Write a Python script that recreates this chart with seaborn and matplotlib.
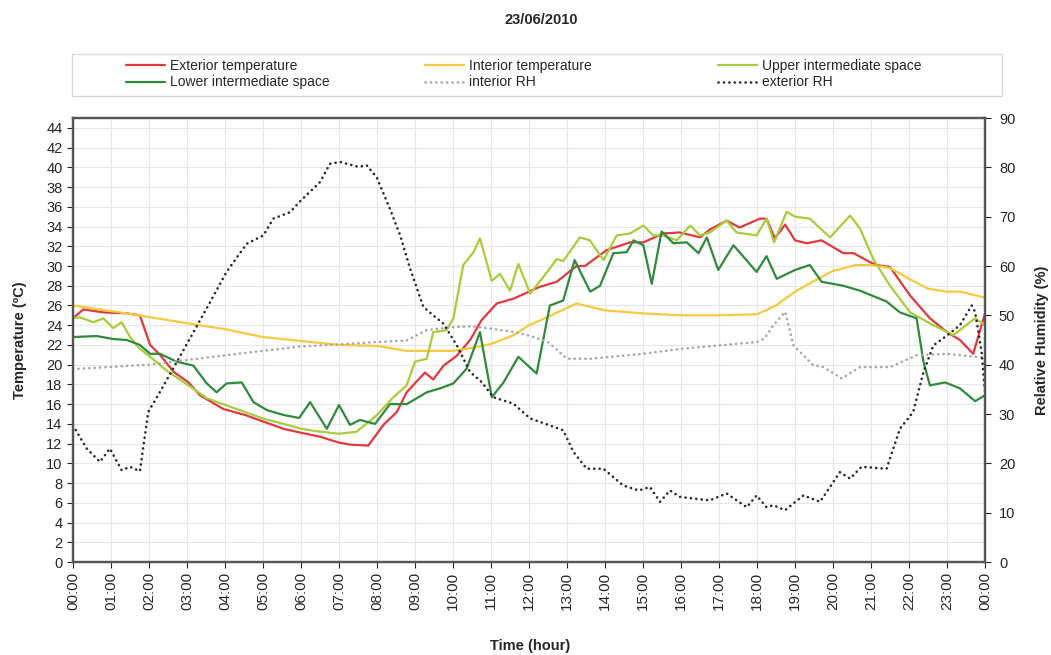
import pandas as pd
import matplotlib.pyplot as plt
import seaborn as sns
from matplotlib.patches import Rectangle

# ---------------------------------------------
#  Temperature / RH record for 23/06/2010
# ---------------------------------------------

hour_ticks = list(range(25))
hour_labels = [f"{h % 24:02d}:00" for h in hour_ticks]

# Exterior temperature (ºC)
ext_temp_h = [0, 0.27, 0.8, 1.41, 1.76, 2.03, 2.29, 2.64, 3.04, 3.34, 3.96, 4.53, 5.03, 5.54, 6.0,
              6.5, 7.0, 7.29, 7.77, 8.17, 8.52, 8.78, 9.26, 9.48, 9.75, 10.1, 10.45, 10.75, 11.15,
              11.6, 12.0, 12.29, 12.73, 13.25, 13.47, 14.04, 14.66, 15.01, 15.54, 15.97, 16.5,
              16.76, 17.2, 17.54, 18.08, 18.25, 18.47, 18.74, 19.0, 19.31, 19.7, 20.27, 20.54,
              20.97, 21.14, 21.5, 22.03, 22.55, 23.0, 23.34, 23.69, 24.0]
ext_temp = [24.7, 25.6, 25.3, 25.2, 25.0, 22.0, 21.0, 19.3, 18.2, 16.9, 15.5, 14.9, 14.2, 13.5, 13.1,
            12.7, 12.1, 11.9, 11.8, 13.9, 15.2, 17.2, 19.2, 18.5, 19.9, 20.9, 22.5, 24.5, 26.2,
            26.7, 27.4, 27.9, 28.4, 30.0, 30.0, 31.6, 32.4, 32.4, 33.3, 33.4, 32.9,
            33.7, 34.6, 33.9, 34.8, 34.8, 32.8, 34.2, 32.6, 32.3, 32.6, 31.3, 31.3,
            30.4, 30.1, 29.9, 27.0, 24.7, 23.3, 22.5, 21.1, 25.2]

# Interior temperature (ºC)
int_temp_h = [0, 1.4, 3.0, 4.0, 5.0, 6.0, 7.0, 8.0, 8.78, 10.0, 10.5, 11.0, 11.6, 12.0, 12.3, 13.25,
              14.0, 15.0, 16.0, 17.0, 18.0, 18.5, 19.0, 19.6, 20.0, 20.6, 21.0, 21.5, 22.0, 22.5,
              23.0, 23.35, 24.0]
int_temp = [26.0, 25.2, 24.2, 23.6, 22.8, 22.4, 22.0, 21.9, 21.4, 21.4, 21.7, 22.1, 23.0, 24.0, 24.5, 26.2,
            25.5, 25.2, 25.0, 25.0, 25.1, 26.0, 27.4, 28.7, 29.5, 30.1, 30.1, 29.8, 28.7, 27.7,
            27.4, 27.4, 26.8]

# Upper intermediate space (ºC)
upper_h = [0, 0.18, 0.54, 0.8, 1.06, 1.28, 1.5, 1.76, 2.03, 2.46, 3.04, 3.52, 4.02, 4.53, 5.03,
           5.54, 6.02, 6.32, 7.0, 7.46, 8.0, 8.43, 8.78, 9.0, 9.31, 9.48, 9.83, 10.01, 10.27, 10.54,
           10.71, 11.02, 11.24, 11.5, 11.72, 12.03, 12.38, 12.73, 12.9, 13.34, 13.6, 13.96, 14.31,
           14.66, 15.01, 15.27, 15.54, 15.89, 16.24, 16.5, 16.76, 17.2, 17.46, 17.99, 18.25, 18.45,
           18.78, 19.0, 19.39, 19.92, 20.45, 20.71, 21.06, 21.5, 22.03, 22.64, 23.17, 23.74, 24.0]
upper = [24.7, 24.8, 24.3, 24.7, 23.7, 24.3, 22.8, 21.6, 20.8, 19.4, 17.9, 16.6, 15.9, 15.2, 14.5,
         14.0, 13.5, 13.3, 13.0, 13.2, 14.9, 16.7, 17.9, 20.3, 20.6, 23.3, 23.5, 24.7, 30.1, 31.4,
         32.8, 28.5, 29.2, 27.5, 30.2, 27.2, 28.9, 30.7, 30.5, 32.9, 32.6, 30.6, 33.1,
         33.3, 34.1, 33.1, 33.1, 32.6, 34.1, 33.1, 33.4, 34.6, 33.4, 33.1, 34.8, 32.4,
         35.5, 35.0, 34.8, 32.9, 35.1, 33.8, 30.7, 28.0, 25.3, 24.0, 23.0, 24.7, 24.0]

# Lower intermediate space (ºC)
lower_h = [0, 0.62, 1.06, 1.41, 1.76, 2.03, 2.29, 2.73, 3.17, 3.52, 3.78, 4.04, 4.44, 4.75, 5.1,
           5.54, 5.95, 6.24, 6.68, 7.0, 7.29, 7.55, 7.95, 8.34, 8.78, 9.31, 9.66, 10.01, 10.36,
           10.71, 11.02, 11.33, 11.72, 12.2, 12.55, 12.9, 13.2, 13.61, 13.87, 14.22, 14.57, 14.75,
           15.01, 15.23, 15.49, 15.8, 16.15, 16.46, 16.68, 16.98, 17.38, 17.99, 18.25, 18.52, 19.0,
           19.39, 19.7, 20.27, 20.71, 21.41, 21.76, 22.2, 22.38, 22.55, 22.95, 23.34, 23.74, 24.0]
lower = [22.8, 22.9, 22.6, 22.5, 22.0, 21.1, 21.1, 20.3, 19.9, 18.1, 17.2, 18.1, 18.2, 16.2, 15.4,
         14.9, 14.6, 16.2, 13.5, 15.9, 13.9, 14.4, 14.0, 16.0, 16.0, 17.2, 17.6, 18.1, 19.6,
         23.3, 16.7, 18.2, 20.8, 19.1, 26.0, 26.5, 30.6, 27.4, 28.0, 31.3, 31.4, 32.6,
         32.1, 28.2, 33.5, 32.3, 32.4, 31.3, 32.9, 29.6, 32.1, 29.4, 31.0, 28.7, 29.6,
         30.1, 28.4, 28.0, 27.5, 26.4, 25.3, 24.7, 20.3, 17.9, 18.2, 17.6, 16.3, 16.9]

# Interior RH (%)
int_rh_h = [0, 2.0, 4.0, 6.0, 7.0, 8.0, 8.78, 9.3, 10.0, 10.5, 11.0, 11.6, 12.0, 12.5, 13.0, 13.6,
            15.0, 16.0, 17.0, 18.0, 18.2, 18.43, 18.74, 18.96, 19.48, 19.75, 20.23, 20.71, 21.5,
            22.2, 23.0, 24.0]
int_rh = [39.1, 40.0, 41.9, 43.7, 44.1, 44.6, 44.9, 47.0, 47.6, 47.8, 47.3, 46.6, 45.9, 44.6, 41.2, 41.2,
          42.2, 43.2, 43.9, 44.6, 45.3, 48.0, 50.7, 43.9, 39.9, 39.5, 37.2, 39.5, 39.5,
          41.9, 42.2, 41.4]

# Exterior RH (%)
ext_rh_h = [0, 0.36, 0.71, 0.97, 1.28, 1.5, 1.76, 1.98, 2.29, 2.73, 3.17, 3.61, 4.04, 4.57, 5.01,
            5.27, 5.71, 6.0, 6.5, 6.76, 7.03, 7.51, 7.73, 7.99, 8.34, 8.61, 8.87, 9.22, 9.48, 9.75,
            10.1, 10.45, 10.75, 11.06, 11.59, 12.03, 12.29, 12.9, 13.17, 13.52, 13.96, 14.48, 14.89,
            15.18, 15.45, 15.71, 15.97, 16.4, 16.76, 17.2, 17.73, 17.99, 18.25, 18.43, 18.74, 19.22,
            19.66, 20.18, 20.45, 20.75, 21.41, 21.76, 22.11, 22.38, 22.64, 23.0, 23.34, 23.65, 23.74,
            23.91, 24.0]
ext_rh = [27.7, 23.0, 20.3, 23.0, 18.6, 19.3, 18.4, 30.4, 34.5, 40.5, 46.6, 52.7, 58.8, 64.5, 66.2,
          69.6, 70.9, 73.3, 77.0, 80.7, 81.1, 80.1, 80.4, 78.0, 71.6, 66.2, 59.5, 51.7, 50.0, 48.3,
          43.9, 38.5, 36.5, 33.4, 32.1, 29.1, 28.4, 26.7, 22.3, 18.9, 18.9, 15.5, 14.5,
          15.2, 12.2, 14.5, 13.2, 12.8, 12.5, 13.9, 11.1, 13.5, 11.1, 11.5, 10.5, 13.5,
          12.2, 18.2, 16.9, 19.3, 18.9, 27.0, 30.4, 38.5, 43.9, 45.9, 48.0, 52.0, 50.7,
          42.6, 34.5]

# ------------------------------
# Figure setup
# ------------------------------
sns.set_style("white")
plt.rcParams["font.family"] = ["Liberation Sans", "DejaVu Sans"]

fig = plt.figure(figsize=(10.51, 6.55), dpi=100)
ax = fig.add_axes([73 / 1051, 1 - 562 / 655, (985 - 73) / 1051, (562 - 118) / 655])
ax2 = ax.twinx()

solid = dict(lw=1.6)
dotted = dict(lw=1.9, linestyle=(0, (0.05, 2.0)), dash_capstyle="round")

sns.lineplot(x=ext_temp_h, y=ext_temp, ax=ax, color="#e0393e", label="Exterior temperature", **solid)
sns.lineplot(x=int_temp_h, y=int_temp, ax=ax, color="#f7c940", label="Interior temperature", **solid)
sns.lineplot(x=upper_h, y=upper, ax=ax, color="#a8cc3c", label="Upper intermediate space", **solid)
sns.lineplot(x=lower_h, y=lower, ax=ax, color="#2f8a3c", label="Lower intermediate space", **solid)
sns.lineplot(x=int_rh_h, y=int_rh, ax=ax2, color="#a6a6a6", label="interior RH", **dotted)
sns.lineplot(x=ext_rh_h, y=ext_rh, ax=ax2, color="#2b2b2b", label="exterior RH", **dotted)

ax.get_legend().remove()
ax2.get_legend().remove()

# axes, ticks, grid
ax.set_xlim(0, 24)
ax.set_ylim(0, 45)
ax2.set_ylim(0, 90)
ax.set_xticks(hour_ticks)
ax.set_xticklabels(hour_labels, rotation=90, fontsize=11)
ax.set_yticks(range(0, 45, 2))
ax.tick_params(axis="y", labelsize=10.5, length=4, width=0.8, direction="out", left=True)
ax.tick_params(axis="x", length=4, width=0.8, direction="out", bottom=True, pad=3)
ax2.set_yticks(range(0, 91, 10))
ax2.tick_params(axis="y", labelsize=10.5, length=4, width=0.8, direction="out", right=True, pad=6)

ax.grid(True, color="#e6e6e6", lw=0.8)
ax.set_axisbelow(True)
for a in (ax, ax2):
    for s in a.spines.values():
        s.set_color("#555555")
        s.set_linewidth(1.6)

ax.set_xlabel("")
ax.set_ylabel("Temperature (ºC)", fontsize=10.5, fontweight="bold", labelpad=14)
ax2.set_ylabel("Relative Humidity (%)", fontsize=10.5, fontweight="bold", labelpad=14)
fig.text(530 / 1051, 1 - 646 / 655, "Time (hour)", ha="center", va="center",
         fontsize=10.5, fontweight="bold")
fig.text(541 / 1051, 1 - 20 / 655, "23/06/2010", ha="center", va="center",
         fontsize=10.5, fontweight="bold")

# ------------------------------
# Legend: framed box with three columns
# ------------------------------
h1, l1 = ax.get_legend_handles_labels()
h2, l2 = ax2.get_legend_handles_labels()
handles = dict(zip(l1 + l2, h1 + h2))
columns = [["Exterior temperature", "Lower intermediate space"],
           ["Interior temperature", "interior RH"],
           ["Upper intermediate space", "exterior RH"]]
col_x = [126, 425, 718]
for names, x in zip(columns, col_x):
    fig.legend([handles[n] for n in names], names, loc="center left",
               bbox_to_anchor=(x / 1051, 1 - 74 / 655), frameon=False, fontsize=10,
               handlelength=2.8, handletextpad=0.4, labelspacing=0.2,
               borderpad=0, borderaxespad=0)
fig.patches.append(Rectangle((72 / 1051, 1 - 96 / 655), (1002 - 72) / 1051, (96 - 54) / 655,
                             transform=fig.transFigure, fill=False, edgecolor="#d9d9d9", lw=1))

plt.savefig("out.png", dpi=100)
